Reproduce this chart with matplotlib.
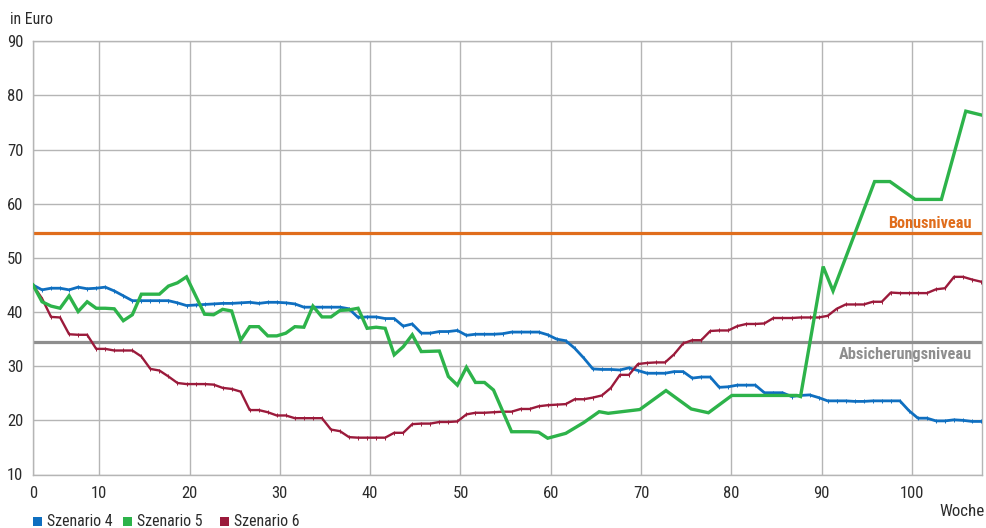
import numpy as np
import matplotlib
matplotlib.use("Agg")
import matplotlib.pyplot as plt
from matplotlib.patches import Rectangle
from matplotlib import font_manager

# Weekly values (week index 0..105), in Euro
scenario4 = [
    45.0, 44.1, 44.4, 44.4, 44.1, 44.6, 44.3, 44.4, 44.6, 43.9,
    43.0, 42.1, 42.1, 42.1, 42.1, 42.1, 41.7, 41.2, 41.3, 41.4,
    41.5, 41.6, 41.6, 41.7, 41.8, 41.6, 41.8, 41.8, 41.7, 41.5,
    40.9, 40.9, 40.9, 40.9, 40.9, 40.6, 39.0, 39.1, 39.1, 38.8,
    38.8, 37.4, 37.8, 36.1, 36.1, 36.4, 36.4, 36.6, 35.7, 35.9,
    35.9, 35.9, 36.0, 36.3, 36.3, 36.3, 36.3, 35.8, 35.0, 34.7,
    33.3, 31.5, 29.5, 29.4, 29.4, 29.3, 29.7, 29.2, 28.7, 28.7,
    28.7, 29.0, 29.0, 27.8, 28.0, 28.0, 26.1, 26.2, 26.5, 26.5,
    26.5, 25.1, 25.1, 25.1, 24.4, 24.6, 24.7, 24.2, 23.6, 23.6,
    23.6, 23.5, 23.5, 23.6, 23.6, 23.6, 23.6, 21.8, 20.4, 20.4,
    19.9, 19.9, 20.1, 20.0, 19.8, 19.8,
]

scenario6 = [
    45.0, 42.5, 39.1, 39.0, 35.9, 35.8, 35.8, 33.2, 33.2, 32.9,
    32.9, 32.9, 31.8, 29.5, 29.2, 28.1, 26.9, 26.7, 26.7, 26.7,
    26.6, 26.0, 25.8, 25.3, 21.9, 21.9, 21.5, 20.9, 20.9, 20.4,
    20.4, 20.4, 20.4, 18.3, 18.0, 16.9, 16.8, 16.8, 16.8, 16.8,
    17.7, 17.7, 19.3, 19.4, 19.4, 19.7, 19.7, 19.8, 21.1, 21.4,
    21.4, 21.5, 21.6, 21.6, 22.1, 22.1, 22.6, 22.8, 22.9, 23.0,
    23.9, 23.9, 24.2, 24.6, 26.0, 28.4, 28.4, 30.4, 30.6, 30.7,
    30.7, 32.2, 34.2, 34.8, 34.8, 36.5, 36.6, 36.6, 37.4, 37.8,
    37.8, 37.9, 38.9, 38.9, 38.9, 39.0, 39.0, 39.0, 39.3, 40.6,
    41.4, 41.4, 41.4, 41.9, 41.9, 43.6, 43.5, 43.5, 43.5, 43.5,
    44.2, 44.4, 46.5, 46.5, 46.0, 45.6,
]

# Szenario 5 is given at the weeks where its value changes course
scenario5_weeks = [
    0, 1, 2, 3, 4, 5, 6, 7, 8, 9,
    10, 11, 12, 14, 15, 16, 17, 19, 20, 21,
    22, 23, 24, 25, 26, 27, 28, 29, 30, 31,
    32, 33, 34, 35, 36, 37, 38, 39, 40, 41,
    42, 43, 45, 46, 47, 48, 49, 50, 51, 53,
    55, 56, 57, 59, 61, 62.7, 63.7, 67.2, 70.1, 72.9,
    74.8, 77.4, 84.6, 85, 87.5, 88.6, 93.2, 94.9, 97.7, 100.6,
    103.3, 105,
]
scenario5 = [
    45.0, 41.9, 41.1, 40.7, 43.0, 40.1, 41.9, 40.7, 40.7, 40.6,
    38.4, 39.5, 43.3, 43.3, 44.8, 45.4, 46.5, 39.6, 39.5, 40.5,
    40.2, 34.8, 37.3, 37.3, 35.6, 35.6, 36.1, 37.3, 37.2, 41.1,
    39.1, 39.1, 40.3, 40.4, 40.7, 37.0, 37.2, 37.0, 32.1, 33.6,
    35.8, 32.7, 32.8, 28.1, 26.5, 29.8, 27.0, 27.0, 25.6, 17.9,
    17.9, 17.8, 16.7, 17.6, 19.6, 21.6, 21.3, 22.0, 25.5, 22.1,
    21.4, 24.6, 24.6, 24.4, 48.4, 43.9, 64.1, 64.1, 60.8, 60.8,
    77.1, 76.4,
]

series_names = ["Szenario 4", "Szenario 5", "Szenario 6"]
level_names = ["Bonusniveau", "Absicherungsniveau"]
bonus_level = 54.6
protection_level = 34.5
x_tick_values = [0, 10, 20, 30, 40, 50, 60, 70, 80, 90, 100]
y_tick_values = [10, 20, 30, 40, 50, 60, 70, 80, 90]

# The week labels after 0 sit 2.66 index steps left of their value
LABEL_SHIFT = 2.66

BLUE = "#0f6fc0"
GREEN = "#2db34a"
RED = "#9b1a3b"
ORANGE = "#e06d1c"
LEVEL_GRAY = "#8e8e8e"
GRID = "#b5b5b5"
TEXT = "#2b2b2b"

# prefer a narrow sans face when one is available
entries = font_manager.fontManager.ttflist
names = {f.name for f in entries}
family = "DejaVu Sans"
stretch = "normal"
for cand in ["Roboto Condensed", "Liberation Sans Narrow", "Open Sans Condensed",
             "Noto Sans Condensed", "DejaVu Sans Condensed"]:
    if cand in names:
        family = cand
        break
else:
    for f in entries:
        if f.name in ("Roboto", "Noto Sans", "Open Sans", "DejaVu Sans") and \
                str(f.stretch) in ("condensed", "semi-condensed", "75", "87.5"):
            family = f.name
            stretch = "condensed"
            break
plt.rcParams["font.family"] = [family, "DejaVu Sans"]
plt.rcParams["font.stretch"] = stretch

W, H = 987, 528
fig = plt.figure(figsize=(W / 100, H / 100), dpi=100)
renderer = fig.canvas.get_renderer()


def fit_width(txt, target_px):
    """Scale a text's size so that it spans target_px pixels."""
    w = txt.get_window_extent(renderer=renderer).width
    if w > 0:
        txt.set_fontsize(txt.get_fontsize() * target_px / w)


left, right, top, bottom = 33, 982.3, 41.3, 474.5
ax = fig.add_axes([left / W, 1 - bottom / H, (right - left) / W, (bottom - top) / H])

weeks = np.arange(len(scenario4))
ax.set_xlim(0, 105.13)
ax.set_ylim(10, 90)

# grid and frame
ax.set_yticks(y_tick_values)
xticks = [0] + [v - LABEL_SHIFT for v in x_tick_values[1:]]
ax.set_xticks(xticks)
ax.set_xticklabels([str(v) for v in x_tick_values])
ax.grid(True, color=GRID, linewidth=1.0, zorder=0)
for side in ["left", "right", "top", "bottom"]:
    ax.spines[side].set_color(GRID)
    ax.spines[side].set_linewidth(1.0)
ax.tick_params(length=0, labelsize=12, colors=TEXT)
ax.tick_params(axis="y", pad=7)
ax.tick_params(axis="x", pad=8)

# threshold levels
ax.axhline(bonus_level, color=ORANGE, linewidth=2.3, zorder=2)
ax.axhline(protection_level, color=LEVEL_GRAY, linewidth=2.3, zorder=2)
t_bonus = ax.text(104.0, 56.4, level_names[0], color=ORANGE, fontsize=12.5,
                  fontweight="bold", ha="right", va="center", zorder=3)
t_prot = ax.text(104.0, 32.1, level_names[1], color=LEVEL_GRAY, fontsize=12.5,
                 fontweight="bold", ha="right", va="center", zorder=3)
fit_width(t_bonus, 84)
fit_width(t_prot, 133)

# scenario lines
ax.plot(weeks, scenario4, color=BLUE, linewidth=2.0, marker="|",
        markersize=2.5, markeredgewidth=0.7, zorder=4)
ax.plot(weeks, scenario6, color=RED, linewidth=1.7, marker="|",
        markersize=2.5, markeredgewidth=0.7, zorder=4)
ax.plot(scenario5_weeks, scenario5, color=GREEN, linewidth=2.4,
        solid_joinstyle="miter", zorder=5)

# axis titles
t_unit = fig.text(10 / W, 1 - 19 / H, "in Euro", fontsize=12, color=TEXT,
                  ha="left", va="center")
fit_width(t_unit, 43)
t_week = fig.text(985 / W, 1 - 511.5 / H, "Woche", fontsize=12, color=TEXT,
                  ha="right", va="center")
fit_width(t_week, 45)

# legend
legend_x = [33, 123, 220]
for name, color, x0 in zip(series_names, [BLUE, GREEN, RED], legend_x):
    fig.patches.append(Rectangle((x0 / W, 1 - 525.5 / H), 9 / W, 9 / H,
                                 transform=fig.transFigure,
                                 facecolor=color, edgecolor="none"))
    t = fig.text((x0 + 14) / W, 1 - 521.5 / H, name, fontsize=12, color=TEXT,
                 ha="left", va="center")
    fit_width(t, 66)

fig.savefig("out.png", dpi=100)
